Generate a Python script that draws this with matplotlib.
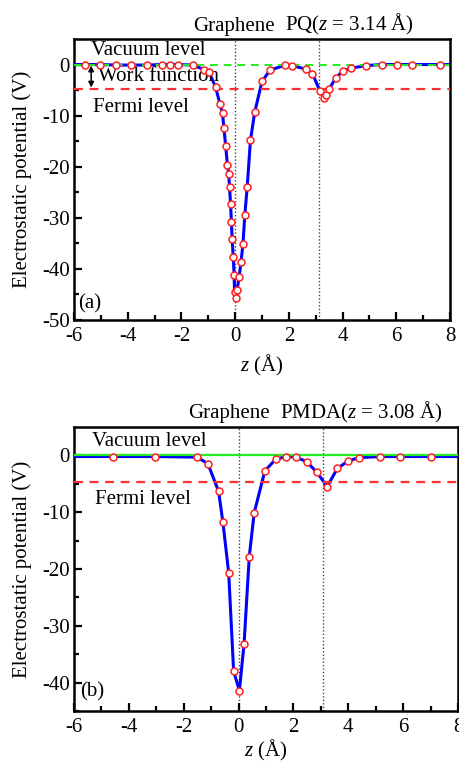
"""
Electrostatic potential profiles along z for graphene/PQ and graphene/PMDA.
"""

import numpy as np
import matplotlib
matplotlib.use("Agg")
import matplotlib.pyplot as plt

plt.rcParams['font.family'] = ['Liberation Serif', 'DejaVu Serif']
plt.rcParams['mathtext.fontset'] = 'custom'
plt.rcParams['mathtext.rm'] = 'Liberation Serif'
plt.rcParams['mathtext.it'] = 'Liberation Serif:italic'
plt.rcParams['axes.unicode_minus'] = False

# Panel (a): graphene / PQ
z_pq = [-5.58, -5.03, -4.43, -3.87, -3.29, -2.73, -2.42, -2.13, -1.58, -1.15,
        -0.97, -0.73, -0.56, -0.47, -0.42, -0.35, -0.29, -0.24, -0.21, -0.17,
        -0.14, -0.11, -0.07, -0.04, -0.02, 0.04, 0.07, 0.15, 0.22, 0.29,
        0.36, 0.45, 0.57, 0.73, 1.00, 1.30, 1.87, 2.13, 2.62, 2.88,
        3.16, 3.31, 3.39, 3.51, 3.75, 4.03, 4.32, 4.88, 5.46, 6.04,
        6.60, 7.61]
v_pq = [0.0, 0.0, -0.1, -0.1, -0.1, 0.0, 0.0, 0.0, -0.1, -1.0,
        -1.5, -4.4, -7.8, -9.5, -12.4, -16.0, -19.6, -21.4, -23.9, -27.3,
        -30.8, -34.2, -37.7, -41.1, -44.6, -45.7, -44.2, -41.5, -38.6, -35.2,
        -29.5, -23.9, -14.8, -9.3, -3.3, -1.1, -0.1, -0.2, -0.9, -1.8,
        -5.2, -6.5, -5.9, -4.7, -2.6, -1.2, -0.7, -0.2, 0.0, 0.0,
        0.0, 0.0]

# Panel (b): graphene / PMDA
z_pmda = [-4.56, -3.04, -1.52, -1.12, -0.73, -0.57, -0.36, -0.18, 0.03, 0.20,
          0.39, 0.57, 0.96, 1.35, 1.72, 2.09, 2.48, 2.86, 3.23, 3.60,
          3.99, 4.38, 5.15, 5.90, 7.02]
v_pmda = [-0.2, -0.2, -0.3, -1.45, -6.3, -11.8, -20.7, -38.0, -41.4, -33.2,
          -17.8, -10.1, -2.7, -0.7, -0.2, -0.3, -1.1, -3.0, -5.5, -2.3,
          -1.0, -0.4, -0.2, -0.2, -0.2]

FERMI = -4.7
VACUUM = 0.0
Z_PQ = 3.14
Z_PMDA = 3.08
XLIM = (-6, 8)

W, H = 459, 764


def style_axes(ax, ylim, yticks):
    ax.set_xlim(*XLIM)
    ax.set_ylim(*ylim)
    ax.set_xticks(range(-6, 9, 2))
    ax.set_xticks(range(-5, 8, 2), minor=True)
    ax.set_yticks(yticks)
    ax.set_yticks([t - 5 for t in yticks if t - 5 >= ylim[0]], minor=True)
    ax.tick_params(which='both', direction='in', top=False, right=False,
                   width=1.6, labelsize=15)
    ax.tick_params(which='major', length=6)
    ax.tick_params(which='minor', length=3.5)
    ax.tick_params(axis='x', pad=5)
    ax.tick_params(axis='y', pad=3)
    for sp in ax.spines.values():
        sp.set_linewidth(1.8)
    ax.set_ylabel('Electrostatic potential (V)', fontsize=15)
    ax.set_xlabel('$z$ (Å)', fontsize=15)


def plot_profile(ax, z, v):
    zl = np.concatenate([[XLIM[0]], z, [XLIM[1]]])
    vl = np.concatenate([[v[0]], v, [v[-1]]])
    ax.plot(zl, vl, color='#0000ff', lw=2.2, zorder=3)
    ax.plot(z, v, ls='none', marker='o', ms=5, mfc='white', mec='#ff2020',
            mew=1.1, zorder=5)


fig = plt.figure(figsize=(W / 100, H / 100), dpi=100)

# Panel (a)
ax1 = fig.add_axes([74 / W, 1 - 320 / H, 376 / W, 281 / H])
ax1.axvline(0, color='#444444', ls=(0, (1, 1.5)), lw=1, zorder=1)
ax1.axvline(Z_PQ, color='#444444', ls=(0, (1, 1.5)), lw=1, zorder=1)
plot_profile(ax1, z_pq, v_pq)
ax1.axhline(VACUUM, color='#22ee22', ls=(0, (4, 3)), lw=1.4, zorder=4)
ax1.axhline(FERMI, color='#ff3030', ls=(0, (4, 3)), lw=1.6, zorder=4)
ax1.annotate('', xy=(-5.36, VACUUM - 0.2), xytext=(-5.36, FERMI + 0.2),
             arrowprops=dict(arrowstyle='<|-|>', color='black', lw=1.1,
                             mutation_scale=8, shrinkA=0, shrinkB=0))
ax1.text(-5.36, 2.7, 'Vacuum level', fontsize=15, va='center', ha='left')
ax1.text(-5.1, -2.4, 'Work function', fontsize=15, va='center', ha='left')
ax1.text(-5.3, -8.4, 'Fermi level', fontsize=15, va='center', ha='left')
ax1.text(-5.85, -46.8, '(a)', fontsize=15, va='center', ha='left')
ax1.text(-1.56, 6.6, 'Graphene', fontsize=15, ha='left', va='baseline')
ax1.text(1.86, 6.6, 'PQ($z$ = 3.14 Å)', fontsize=15, ha='left', va='baseline')
style_axes(ax1, (-50, 5), [0, -10, -20, -30, -40, -50])
ax1.yaxis.set_label_coords(-0.112, 0.5)
ax1.xaxis.set_label_coords(0.5, -0.117)

# Panel (b)
ax2 = fig.add_axes([74 / W, 1 - 711 / H, 384 / W, 284 / H])
ax2.axvline(0, color='#444444', ls=(0, (1, 1.5)), lw=1, zorder=1)
ax2.axvline(Z_PMDA, color='#444444', ls=(0, (1, 1.5)), lw=1, zorder=1)
plot_profile(ax2, z_pmda, v_pmda)
ax2.axhline(VACUUM, color='#22ee22', ls='-', lw=1.6, zorder=4)
ax2.axhline(FERMI, color='#ff3030', ls=(0, (4, 3)), lw=1.6, zorder=4)
ax2.text(-5.34, 2.4, 'Vacuum level', fontsize=15, va='center', ha='left')
ax2.text(-5.23, -7.7, 'Fermi level', fontsize=15, va='center', ha='left')
ax2.text(-5.78, -41.7, '(b)', fontsize=15, va='center', ha='left')
ax2.text(-1.84, 6.5, 'Graphene', fontsize=15, ha='left', va='baseline')
ax2.text(1.52, 6.5, 'PMDA($z$ = 3.08 Å)', fontsize=15, ha='left', va='baseline')
style_axes(ax2, (-45, 5), [0, -10, -20, -30, -40])
ax2.yaxis.set_label_coords(-0.110, 0.5)
ax2.xaxis.set_label_coords(0.5, -0.095)

fig.savefig('out.png', dpi=100)
